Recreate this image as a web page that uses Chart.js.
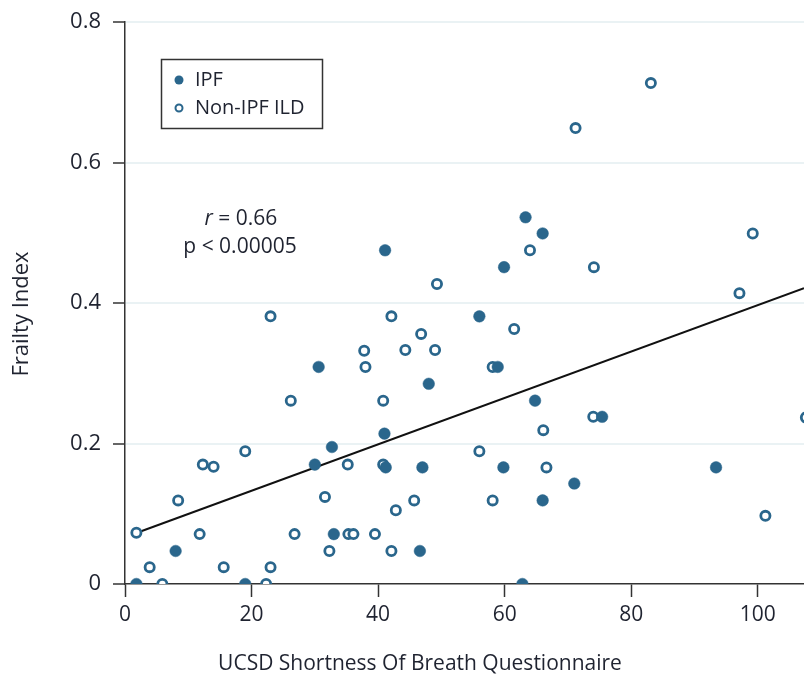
<!DOCTYPE html>
<html lang="en">
<head>
  <meta charset="UTF-8">
  <title>Frailty Index vs UCSD SOBQ</title>
  <script src="https://cdn.jsdelivr.net/npm/chart.js"></script>
  <style>
    body {
      margin: 0;
      background: #ffffff;
    }
  </style>
</head>
<body>
  <canvas id="frailtyChart" width="804" height="677"></canvas>

  <script>
    // IPF patients (filled markers)
    const ipfX = [41.1, 63.3, 66.0, 59.9, 30.6, 41.0, 32.7, 30.0, 41.2, 33.0, 8.0, 1.8, 19.0,
                  56.0, 58.9, 48.0, 64.8, 75.4, 47.0, 59.8, 93.4, 71.0, 66.0, 46.6, 62.8];
    const ipfY = [0.475, 0.522, 0.499, 0.451, 0.309, 0.214, 0.195, 0.170, 0.166, 0.071, 0.047, 0, 0,
                  0.381, 0.309, 0.285, 0.261, 0.238, 0.166, 0.166, 0.166, 0.143, 0.119, 0.047, 0];

    // non-IPF ILD patients (open markers)
    const ildX = [83.1, 71.2, 64.0, 74.1, 49.3, 99.2, 97.1, 23.0, 42.1, 37.8, 38.0, 26.2, 40.8,
                  19.0, 12.3, 14.0, 35.2, 40.8, 8.4, 31.6, 42.8, 1.8, 11.8, 26.8, 35.3, 36.1,
                  39.5, 32.3, 42.1, 3.9, 15.6, 23.0, 5.9, 22.3, 61.5, 46.8, 44.3, 49.0, 58.1,
                  74.0, 107.6, 66.1, 56.0, 66.6, 45.7, 58.1, 101.2];
    const ildY = [0.713, 0.649, 0.475, 0.451, 0.427, 0.499, 0.414, 0.381, 0.381, 0.332, 0.309, 0.261, 0.261,
                  0.189, 0.170, 0.167, 0.170, 0.170, 0.119, 0.124, 0.105, 0.073, 0.071, 0.071, 0.071, 0.071,
                  0.071, 0.047, 0.047, 0.024, 0.024, 0.024, 0, 0, 0.363, 0.356, 0.333, 0.333, 0.309,
                  0.238, 0.237, 0.219, 0.189, 0.166, 0.119, 0.119, 0.097];

    // regression line end points
    const fitX = [1.9, 107.3];
    const fitY = [0.073, 0.421];

    const xTicks = [0, 20, 40, 60, 80, 100];
    const yTicks = [0, 0.2, 0.4, 0.6, 0.8];

    const azul = '#2a668c';
    const eixo = '#333333';
    const texto = '#1f2330';
    const fonte = "'Open Sans', sans-serif";

    const pares = (xs, ys) => xs.map((x, i) => ({ x: x, y: ys[i] }));

    // legend box + r / p annotation + axis titles
    const anotacoes = {
      id: 'anotacoes',
      afterDatasetsDraw(chart) {
        const { ctx } = chart;
        ctx.save();

        ctx.strokeStyle = eixo;
        ctx.lineWidth = 1.5;
        ctx.strokeRect(161.5, 59.5, 161, 69);

        ctx.fillStyle = azul;
        ctx.beginPath();
        ctx.arc(179, 80, 4.5, 0, Math.PI * 2);
        ctx.fill();

        ctx.strokeStyle = azul;
        ctx.lineWidth = 2;
        ctx.beginPath();
        ctx.arc(179, 108, 3.5, 0, Math.PI * 2);
        ctx.stroke();

        ctx.fillStyle = texto;
        ctx.font = '20px ' + fonte;
        ctx.textAlign = 'left';
        ctx.textBaseline = 'middle';
        ctx.fillText('IPF', 195, 80);
        ctx.fillText('Non-IPF ILD', 195, 108);

        // r = 0.66 with italic r, centred
        ctx.font = 'italic 21px ' + fonte;
        const wr = ctx.measureText('r').width;
        ctx.font = '21px ' + fonte;
        const wResto = ctx.measureText(' = 0.66').width;
        const xi = 241 - (wr + wResto) / 2;
        ctx.font = 'italic 21px ' + fonte;
        ctx.fillText('r', xi, 219);
        ctx.font = '21px ' + fonte;
        ctx.fillText(' = 0.66', xi + wr, 219);

        ctx.textAlign = 'center';
        ctx.fillText('p < 0.00005', 240, 247);

        ctx.font = '21px ' + fonte;
        ctx.fillText('UCSD Shortness Of Breath Questionnaire', 420, 664);

        ctx.translate(22, 314);
        ctx.rotate(-Math.PI / 2);
        ctx.font = '22px ' + fonte;
        ctx.fillText('Frailty Index', 0, 0);

        ctx.restore();
      }
    };

    new Chart(document.getElementById('frailtyChart'), {
      type: 'scatter',
      data: {
        datasets: [
          {
            label: 'IPF',
            data: pares(ipfX, ipfY),
            pointRadius: 5.8,
            pointBackgroundColor: azul,
            pointBorderColor: azul,
            pointBorderWidth: 0.5,
            order: 0
          },
          {
            label: 'Non-IPF ILD',
            data: pares(ildX, ildY),
            pointRadius: 4.6,
            pointBackgroundColor: '#ffffff',
            pointBorderColor: azul,
            pointBorderWidth: 2.8,
            order: 1
          },
          {
            type: 'line',
            label: 'fit',
            data: pares(fitX, fitY),
            borderColor: '#111111',
            borderWidth: 2,
            pointRadius: 0,
            fill: false,
            order: 2
          }
        ]
      },
      options: {
        responsive: false,
        animation: false,
        // no automatic padding for the point radius, the plot runs to the canvas edge
        layout: { autoPadding: false, padding: { top: 22, right: 0, left: 0, bottom: 0 } },
        plugins: {
          legend: { display: false },
          tooltip: { enabled: false }
        },
        scales: {
          x: {
            type: 'linear',
            min: 0,
            max: 107.3,
            bounds: 'data',
            afterFit: s => { s.height = 93; s.paddingLeft = 0; s.paddingRight = 0; },
            afterBuildTicks: s => { s.ticks = xTicks.map(v => ({ value: v })); },
            ticks: { color: texto, font: { family: fonte, size: 21 }, padding: 5 },
            grid: { drawOnChartArea: false, tickColor: eixo, tickLength: 13, tickWidth: 1.5 },
            border: { color: eixo, width: 1.5 }
          },
          y: {
            min: 0,
            max: 0.8,
            afterFit: s => { s.width = 125; s.paddingTop = 0; s.paddingBottom = 0; },
            afterBuildTicks: s => { s.ticks = yTicks.map(v => ({ value: v })); },
            ticks: { color: texto, font: { family: fonte, size: 22 }, padding: 12 },
            grid: {
              color: c => c.tick && c.tick.value === 0 ? 'rgba(0,0,0,0)' : '#eaf2f4',
              lineWidth: 2,
              tickColor: eixo,
              tickLength: 12,
              tickWidth: 1.5
            },
            border: { color: eixo, width: 1.5 }
          }
        }
      },
      plugins: [anotacoes]
    });
  </script>
</body>
</html>
